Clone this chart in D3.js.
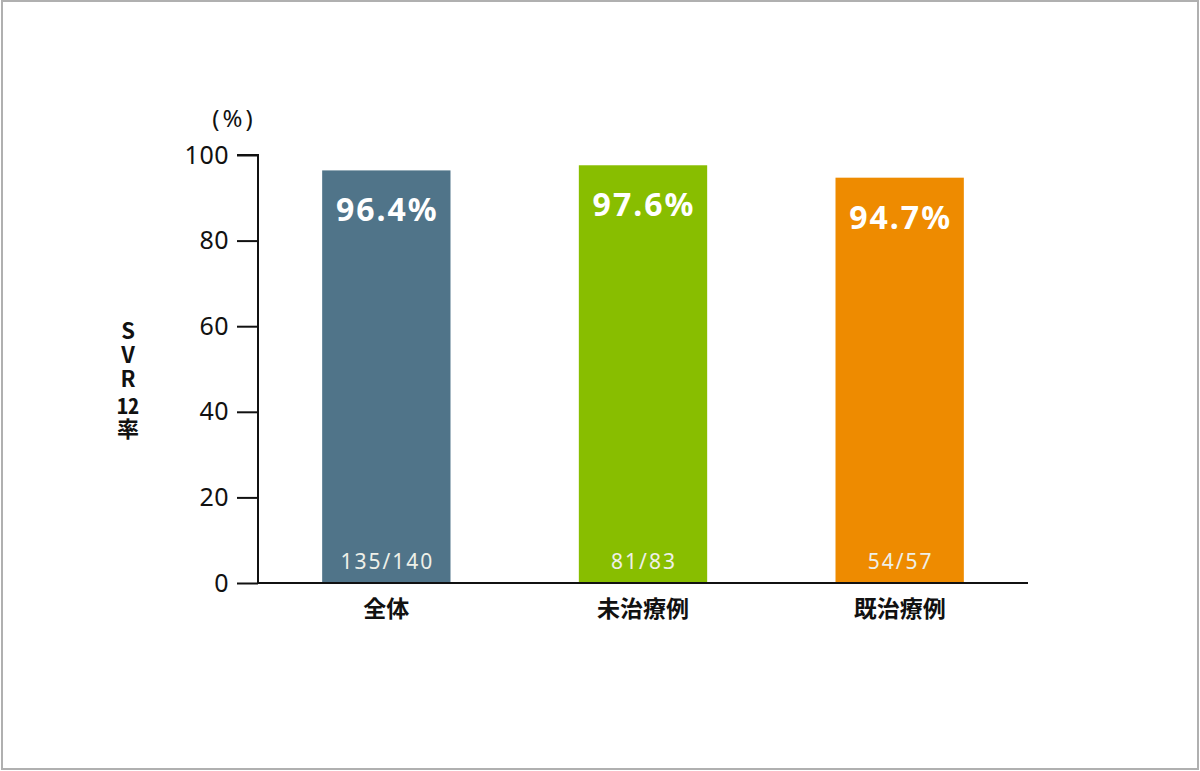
<!DOCTYPE html>
<html><head><meta charset="utf-8">
<script src="https://cdn.jsdelivr.net/npm/d3@7"></script>
<style>
html,body{margin:0;padding:0;background:#fff;}
body{position:relative;width:1200px;height:771px;overflow:hidden;}
svg{display:block;position:absolute;left:0;top:0;}
#ylab{position:absolute;writing-mode:vertical-rl;text-orientation:upright;
  font-family:'Noto Sans CJK JP',sans-serif;font-weight:bold;font-size:22px;line-height:24px;
  letter-spacing:2px;color:#111;white-space:nowrap;}
#ylab .tcy{text-combine-upright:all;margin-inline-start:1px;margin-inline-end:3px;}
</style></head>
<body>
<script>
const categories = ["全体", "未治療例", "既治療例"];
const values = [96.4, 97.6, 94.7];
const valueLabels = ["96.4%", "97.6%", "94.7%"];
const counts = ["135/140", "81/83", "54/57"];
const colors = ["#507489", "#88be00", "#ee8b00"];
const yTicks = [0, 20, 40, 60, 80, 100];
const yLabelParts = ["SVR", "12", "率"];

const W = 1200, H = 771;
const svg = d3.select("body").append("svg").attr("width", W).attr("height", H);
svg.append("rect").attr("x", 2).attr("y", 1).attr("width", 1196).attr("height", 768)
  .attr("fill", "#fff").attr("stroke", "#b0b0b0").attr("stroke-width", 2);

const x0 = 258, x1 = 1028, yB = 583, yT = 155;
const x = d3.scaleBand().domain(categories).range([x0, x1]).paddingInner(0.5).paddingOuter(0.25);
const y = d3.scaleLinear().domain([0, 100]).range([yB, yT]);
const font = "'Noto Sans', 'Open Sans', sans-serif";
const cjk = "'Noto Sans CJK JP', sans-serif";

// bars
svg.selectAll("rect.bar").data(values).enter().append("rect")
  .attr("class", "bar")
  .attr("x", (d, i) => x(categories[i]))
  .attr("width", x.bandwidth())
  .attr("y", d => y(d))
  .attr("height", d => yB - y(d))
  .attr("fill", (d, i) => colors[i]);

// value labels
svg.selectAll("text.val").data(values).enter().append("text")
  .attr("x", (d, i) => x(categories[i]) + x.bandwidth() / 2 + 1)
  .attr("y", d => y(d) + 51)
  .attr("text-anchor", "middle")
  .attr("fill", "#fff").attr("font-family", font).attr("font-weight", "bold")
  .attr("font-size", 32).attr("letter-spacing", 2)
  .text((d, i) => valueLabels[i]);

// counts
svg.selectAll("text.cnt").data(counts).enter().append("text")
  .attr("x", (d, i) => x(categories[i]) + x.bandwidth() / 2 + 1)
  .attr("y", 569)
  .attr("text-anchor", "middle")
  .attr("fill", "#eef0e8").attr("font-family", font)
  .attr("font-size", 21).attr("letter-spacing", 2)
  .text(d => d);

// y axis
const yAxis = svg.append("g").attr("transform", `translate(${x0},0)`)
  .call(d3.axisLeft(y).tickValues(yTicks).tickSize(21).tickPadding(8));
yAxis.select(".domain").attr("stroke", "#111").attr("stroke-width", 2).attr("d", `M-21,${yT}H0V${yB}`);
yAxis.selectAll(".tick line").attr("stroke", "#111").attr("stroke-width", 2);
yAxis.selectAll(".tick text").attr("font-family", font).attr("font-size", 25)
  .attr("letter-spacing", 0.5).attr("fill", "#111");

// x axis
const xAxis = svg.append("g").attr("transform", `translate(0,${yB})`)
  .call(d3.axisBottom(x).tickSize(0).tickPadding(18));
xAxis.select(".domain").attr("stroke", "#111").attr("stroke-width", 2).attr("d", `M${x0},0H${x1}`);
xAxis.selectAll(".tick text").attr("font-family", cjk).attr("font-weight", "bold")
  .attr("font-size", 23).attr("fill", "#111");

// (%)
svg.append("text").attr("x", 234).attr("y", 127).attr("text-anchor", "middle")
  .attr("font-family", font).attr("font-size", 24).attr("letter-spacing", 3)
  .attr("fill", "#111").text("(%)");

// y label: vertical writing, one element
const ylab = d3.select("body").append("div").attr("id", "ylab");
yLabelParts.forEach(p => {
  const s = ylab.append("span").text(p);
  if (/^\d+$/.test(p)) s.attr("class", "tcy");
});
const bb = ylab.node().getBoundingClientRect();
ylab.style("left", (128 - bb.width / 2) + "px").style("top", (381 - bb.height / 2) + "px");
</script>
</body></html>
